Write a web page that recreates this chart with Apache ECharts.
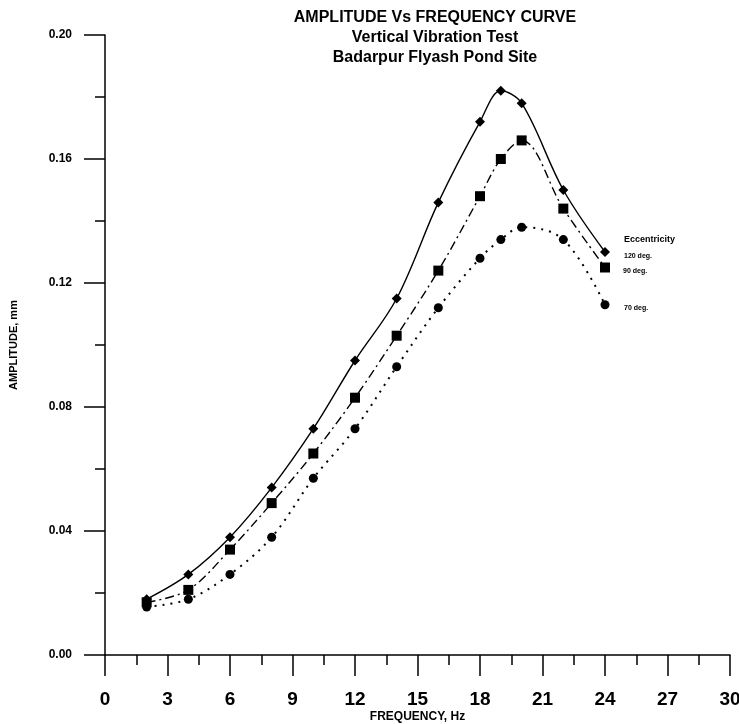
<!DOCTYPE html>
<html>
<head>
<meta charset="utf-8">
<script src="https://cdn.jsdelivr.net/npm/echarts@6/dist/echarts.min.js"></script>
<style>
html,body{margin:0;padding:0;background:#fff;}
#chart{width:739px;height:724px;}
</style>
</head>
<body>
<div id="chart"></div>
<script>
// Frequency (Hz) at which each amplitude was measured
var frequency = [2, 4, 6, 8, 10, 12, 14, 16, 18, 19, 20, 22, 24];
// Amplitude (mm) for each eccentricity setting
var amp120 = [0.018, 0.026, 0.038, 0.054, 0.073, 0.095, 0.115, 0.146, 0.172, 0.182, 0.178, 0.150, 0.130];
var amp90  = [0.017, 0.021, 0.034, 0.049, 0.065, 0.083, 0.103, 0.124, 0.148, 0.160, 0.166, 0.144, 0.125];
var amp70  = [0.0155, 0.018, 0.026, 0.038, 0.057, 0.073, 0.093, 0.112, 0.128, 0.134, 0.138, 0.134, 0.113];
var seriesNames = ['120 deg.', '90 deg.', '70 deg.'];
var legendTitle = 'Eccentricity';
var titleLines = ['AMPLITUDE Vs FREQUENCY CURVE', 'Vertical Vibration Test', 'Badarpur Flyash Pond Site'];
var xName = 'FREQUENCY, Hz';
var yName = 'AMPLITUDE, mm';

function pairs(xs, ys){ return xs.map(function(x,i){ return [x, ys[i]]; }); }

var FONT = 'Liberation Sans, Arial, sans-serif';
var chart = echarts.init(document.getElementById('chart'), null, {renderer:'canvas'});

var baseSeries = function(name, data, symbol, size, lineType, width, endLabel){
  return {
    name: name, type: 'line', data: data, smooth: 0.35,
    symbol: symbol, symbolSize: size,
    itemStyle: {color: '#000'},
    lineStyle: {color: '#000', width: width, type: lineType},
    endLabel: endLabel,
    z: 3
  };
};

chart.setOption({
  animation: false,
  backgroundColor: '#fff',
  title: {
    text: titleLines.join('\n'),
    left: 430, top: 3, textAlign: 'center',
    textStyle: {fontFamily: FONT, fontWeight: 'bold', fontSize: 16, color: '#000', lineHeight: 20}
  },
  grid: {left: 105, right: 9, top: 35, bottom: 69, containLabel: false, outerBoundsMode: 'none'},
  xAxis: {
    type: 'value', min: 0, max: 30, interval: 3,
    name: xName, nameLocation: 'middle', nameGap: 56, nameMoveOverlap: false,
    nameTextStyle: {fontFamily: FONT, fontWeight: 'bold', fontSize: 12, color: '#000'},
    axisLine: {show: true, onZero: false, lineStyle: {color: '#000', width: 1.5}},
    axisTick: {show: true, inside: false, length: 21, lineStyle: {color: '#000', width: 1.5}},
    minorTick: {show: true, splitNumber: 2, length: 10, lineStyle: {color: '#000', width: 1.5}},
    splitLine: {show: false},
    axisLabel: {margin: 35, fontFamily: FONT, fontWeight: 'bold', fontSize: 19, color: '#000'}
  },
  yAxis: {
    type: 'value', min: 0, max: 0.2, interval: 0.04,
    name: yName, nameLocation: 'middle', nameGap: 86, nameRotate: 90, nameMoveOverlap: false,
    nameTextStyle: {fontFamily: FONT, fontWeight: 'bold', fontSize: 11, color: '#000'},
    axisLine: {show: true, onZero: false, lineStyle: {color: '#000', width: 1.5}},
    axisTick: {show: true, inside: false, length: 21, lineStyle: {color: '#000', width: 1.5}},
    minorTick: {show: true, splitNumber: 2, length: 10, lineStyle: {color: '#000', width: 1.5}},
    splitLine: {show: false},
    axisLabel: {margin: 33, fontFamily: FONT, fontWeight: 'bold', fontSize: 12, color: '#000',
      formatter: function(v){ return v.toFixed(2); }}
  },
  series: [
    baseSeries(seriesNames[0], pairs(frequency, amp120), 'diamond', 10, 'solid', 1.4, {
      show: true, distance: 19, offset: [0, -4], align: 'left',
      formatter: function(){ return '{a|' + legendTitle + '}\n{b|' + seriesNames[0] + '}'; },
      rich: {
        a: {fontFamily: FONT, fontWeight: 'bold', fontSize: 9, color: '#000', lineHeight: 17},
        b: {fontFamily: FONT, fontWeight: 'bold', fontSize: 7, color: '#000', lineHeight: 17}
      }
    }),
    baseSeries(seriesNames[1], pairs(frequency, amp90), 'rect', 10, [9, 4, 2, 4], 1.4, {
      show: true, distance: 18, offset: [0, 4],
      formatter: function(){ return seriesNames[1]; },
      fontFamily: FONT, fontWeight: 'bold', fontSize: 7, color: '#000'
    }),
    baseSeries(seriesNames[2], pairs(frequency, amp70), 'circle', 9, [2, 6], 2, {
      show: true, distance: 19, offset: [0, 3],
      formatter: function(){ return seriesNames[2]; },
      fontFamily: FONT, fontWeight: 'bold', fontSize: 7, color: '#000'
    })
  ]
});
</script>
</body>
</html>
